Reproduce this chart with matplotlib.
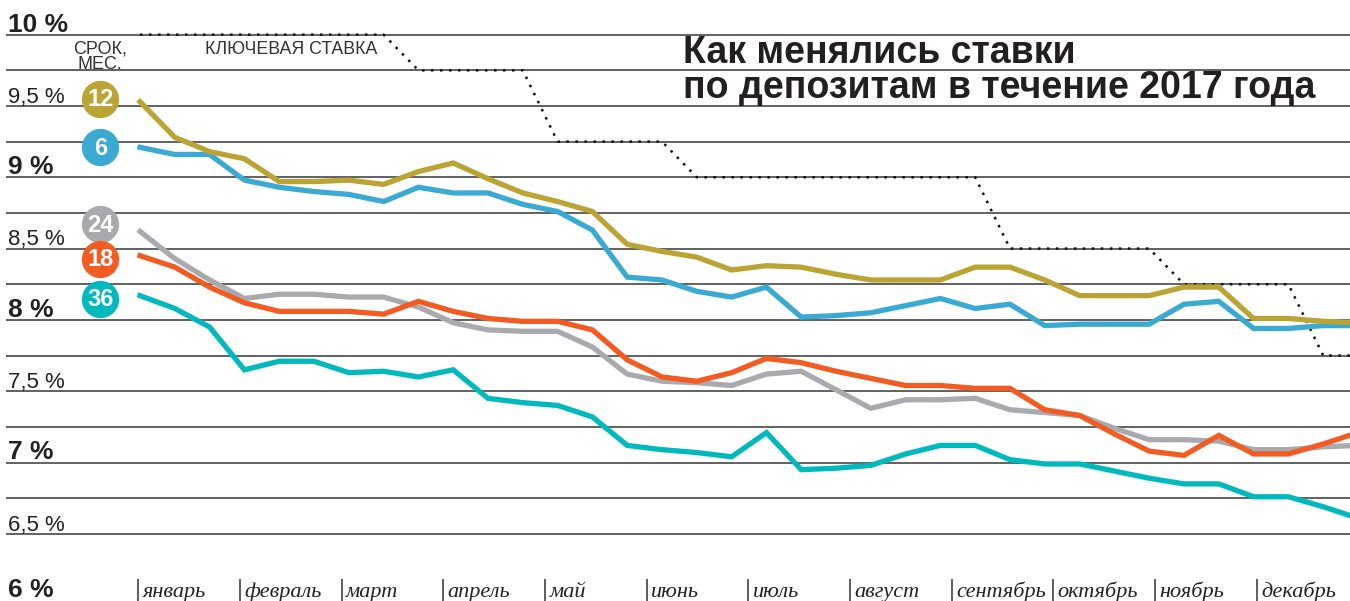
import numpy as np
import matplotlib
matplotlib.use("Agg")
import matplotlib.pyplot as plt

plt.rcParams['font.family'] = ['Liberation Sans', 'DejaVu Sans']

# three readings per month (1st, 11th, 21st), Jan 2017 .. Dec 2017
term_12 = [9.53, 9.28, 9.18, 9.13, 8.97, 8.97, 8.98, 8.95, 9.04, 9.10, 8.99, 8.89,
           8.83, 8.76, 8.53, 8.48, 8.44, 8.35, 8.38, 8.37, 8.32, 8.28, 8.28, 8.28,
           8.37, 8.37, 8.28, 8.17, 8.17, 8.17, 8.23, 8.23, 8.01, 8.01, 7.99, 7.98]
term_6 = [9.21, 9.16, 9.16, 8.98, 8.93, 8.90, 8.88, 8.83, 8.93, 8.89, 8.89, 8.81,
          8.76, 8.63, 8.30, 8.28, 8.20, 8.16, 8.23, 8.02, 8.03, 8.05, 8.10, 8.15,
          8.08, 8.11, 7.96, 7.97, 7.97, 7.97, 8.11, 8.13, 7.94, 7.94, 7.96, 7.96]
term_24 = [8.62, 8.43, 8.28, 8.15, 8.18, 8.18, 8.16, 8.16, 8.09, 7.98, 7.93, 7.92,
           7.92, 7.81, 7.62, 7.57, 7.56, 7.54, 7.62, 7.64, 7.51, 7.38, 7.44, 7.44,
           7.45, 7.37, 7.35, 7.33, 7.24, 7.16, 7.16, 7.15, 7.09, 7.09, 7.11, 7.12]
term_18 = [8.45, 8.37, 8.23, 8.12, 8.06, 8.06, 8.06, 8.04, 8.13, 8.06, 8.01, 7.99,
           7.99, 7.93, 7.72, 7.60, 7.57, 7.63, 7.73, 7.70, 7.64, 7.59, 7.54, 7.54,
           7.52, 7.52, 7.37, 7.33, 7.20, 7.08, 7.05, 7.19, 7.06, 7.06, 7.13, 7.21]
term_36 = [8.17, 8.08, 7.95, 7.65, 7.71, 7.71, 7.63, 7.64, 7.60, 7.65, 7.45, 7.42,
           7.40, 7.32, 7.12, 7.09, 7.07, 7.04, 7.21, 6.95, 6.96, 6.98, 7.06, 7.12,
           7.12, 7.02, 6.99, 6.99, 6.94, 6.89, 6.85, 6.85, 6.76, 6.76, 6.69, 6.61]
key_rate = [10.0] * 8 + [9.75] * 4 + [9.25] * 4 + [9.0] * 9 + [8.5] * 5 + [8.25] * 4 + [7.75] * 2

months = ['январь', 'февраль', 'март', 'апрель', 'май', 'июнь',
          'июль', 'август', 'сентябрь', 'октябрь', 'ноябрь', 'декабрь']

series = [  # label, values, colour, badge level
    ('36', term_36, '#00B9BC', 8.15),
    ('24', term_24, '#AAAAAE', 8.67),
    ('18', term_18, '#F25B22', 8.43),
    ('6', term_6, '#3AAAD2', 9.21),
    ('12', term_12, '#BAA434', 9.55),
]

x = np.arange(len(key_rate))

fig = plt.figure(figsize=(13.5, 6.01), dpi=100)
ax = fig.add_axes([0, 0, 1, 1])
ax.set_xlim(-4.023, 34.77)
ax.set_ylim(6.029, 10.243)
ax.axis('off')

# horizontal grid
grid_levels = np.arange(6.5, 10.01, 0.25)
ax.hlines(grid_levels, -3.85, 40, color='#555555', lw=1.3, zorder=1)

# y labels
for lev in np.arange(6.0, 10.01, 0.5):
    whole = abs(lev - round(lev)) < 1e-6
    txt = ('%d %%' % lev) if whole else ('%s %%' % ('%.1f' % lev).replace('.', ','))
    yy = lev + 0.022 if lev > 6.1 else 6.057
    ax.text(-3.79, yy, txt, fontsize=19 if whole else 16,
            fontweight='bold' if whole else 'normal', color='#222222',
            va='baseline', ha='left', zorder=3)

# key rate
ax.plot(x, key_rate, color='#111111', lw=1.8, ls=(0, (1, 2.6)), zorder=2)

# deposit rates
for lab, vals, col, lev in series:
    ax.plot(x, vals, color=col, lw=3.8, solid_joinstyle='miter', zorder=4)
    ax.scatter([-1.14], [lev], s=720, color=col, zorder=5, linewidths=0)
    ax.text(-1.14, lev - 0.008, lab, color='white', fontsize=17, fontweight='bold',
            ha='center', va='center', zorder=6)

# month axis
month_pos = -0.05 + 2.9215 * np.arange(12)
ax.vlines(month_pos, 5.9, 6.183, color='#333333', lw=1.1)
for mp, m in zip(month_pos, months):
    ax.text(mp + 0.13, 6.055, m, fontsize=16, style='italic', family='Liberation Serif',
            color='#222222', va='baseline', ha='left')

# annotations
ax.text(100 / 1350, 1 - 53 / 601, 'СРОК,', transform=ax.transAxes, fontsize=13,
        color='#333333', ha='center', va='baseline')
ax.text(100 / 1350, 1 - 69 / 601, 'МЕС.', transform=ax.transAxes, fontsize=13,
        color='#333333', ha='center', va='baseline')
ax.text(205 / 1350, 1 - 54.5 / 601, 'КЛЮЧЕВАЯ СТАВКА', transform=ax.transAxes,
        fontsize=12.8, color='#333333', ha='left', va='baseline')

ax.text(683 / 1350, 1 - 63 / 601, 'Как менялись ставки', transform=ax.transAxes,
        fontsize=27, fontweight='bold', color='#231F20', ha='left', va='baseline', zorder=7)
ax.text(683 / 1350, 1 - 98 / 601, 'по депозитам в течение 2017 года', transform=ax.transAxes,
        fontsize=27, fontweight='bold', color='#231F20', ha='left', va='baseline', zorder=7)

fig.savefig('out.png', dpi=100)
